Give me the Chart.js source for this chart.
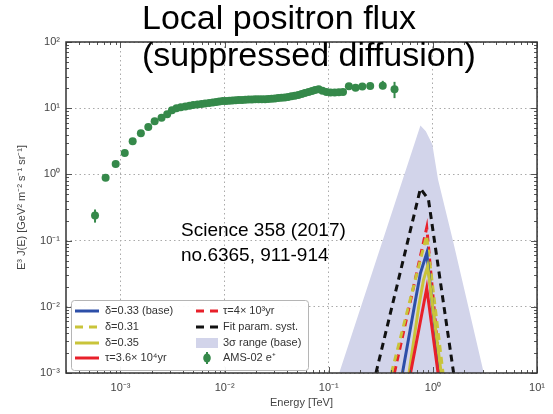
<!DOCTYPE html>
<html>
<head>
<meta charset="utf-8">
<script src="https://cdn.jsdelivr.net/npm/chart.js@4.4.0/dist/chart.umd.min.js"></script>
<style>
  html, body { margin: 0; padding: 0; background: #fff; }
</style>
</head>
<body>
<canvas id="chart" width="553" height="414"></canvas>
<script>
// AMS-02 positron points (energy in TeV, E^3 J(E))
const amsEnergy = [0.00057, 0.00072, 0.00090, 0.00110, 0.00131, 0.00157, 0.00185, 0.00213, 0.00248, 0.00281,
  0.00312, 0.00345, 0.0038, 0.0042, 0.0046, 0.0050, 0.0055, 0.0060, 0.0065, 0.0071,
  0.0077, 0.0083, 0.0089, 0.0096, 0.0103, 0.0111, 0.0119, 0.0128, 0.0137, 0.0147,
  0.0158, 0.0170, 0.0183, 0.0197, 0.0212, 0.0228, 0.0245, 0.0263, 0.0283, 0.0304,
  0.0327, 0.0352, 0.0378, 0.0407, 0.0438, 0.0472, 0.051, 0.055, 0.059, 0.064,
  0.069, 0.074, 0.080, 0.087, 0.095, 0.104, 0.114, 0.125, 0.137, 0.156,
  0.181, 0.210, 0.250, 0.330, 0.428];
const amsFlux = [0.24, 0.89, 1.43, 2.1, 3.16, 4.2, 5.2, 6.35, 7.2, 8.1,
  9.3, 10.0, 10.3, 10.6, 10.9, 11.2, 11.4, 11.6, 11.8, 12.0,
  12.2, 12.4, 12.6, 12.8, 12.9, 13.0, 13.1, 13.2, 13.3, 13.3,
  13.4, 13.5, 13.5, 13.6, 13.6, 13.7, 13.7, 13.8, 13.9, 14.0,
  14.2, 14.4, 14.5, 14.8, 15.1, 15.4, 15.8, 16.4, 17.0, 17.5,
  18.2, 18.8, 19.3, 18.4, 17.6, 17.3, 17.2, 17.4, 17.6, 21.5,
  20.3, 21.2, 21.7, 21.9, 19.3];

// error bars visible in the picture
const errEnergy = [0.00057, 0.330, 0.428];
const errLow = [0.187, 19.4, 14.2];
const errHigh = [0.295, 25.9, 25.0];

// 3 sigma band (base)
const bandE = [0.126, 0.759, 0.855, 0.987, 1.12, 1.55, 2.19, 3.08];
const bandY = [0.001, 5.5, 4.5, 2.85, 0.84, 0.103, 0.01, 0.001];

// model curves
const fitE = [0.284, 0.759, 0.906, 1.58];
const fitY = [0.001, 0.61, 0.42, 0.001];
const tau4e3E = [0.427, 0.873, 1.17];
const tau4e3Y = [0.001, 0.157, 0.001];
const d031E = [0.40, 0.87, 1.25];
const d031Y = [0.001, 0.119, 0.001];
const d033E = [0.51, 0.681, 0.759, 0.873, 1.164];
const d033Y = [0.001, 0.0128, 0.0324, 0.065, 0.001];
const d035E = [0.59, 0.731, 0.813, 0.89, 1.2];
const d035Y = [0.001, 0.0101, 0.0256, 0.041, 0.001];
const tau36e4E = [0.61, 0.873, 1.12];
const tau36e4Y = [0.001, 0.0192, 0.001];

// axis ranges
const xRange = [3e-4, 10];
const yRange = [1e-3, 100];

const FONT = 'Liberation Sans, Arial, sans-serif';
Chart.defaults.font.family = FONT;

const pts = (xs, ys) => xs.map((v, i) => ({ x: v, y: ys[i] }));

const SUP = { '-': '⁻', '0': '⁰', '1': '¹', '2': '²', '3': '³', '4': '⁴', '5': '⁵' };
function decadeLabel(v) {
  const l = Math.log10(v);
  if (Math.abs(l - Math.round(l)) > 1e-6) return null;
  return '10' + String(Math.round(l)).split('').map(c => SUP[c]).join('');
}

const green = '#35894a';
const blue = '#2d4fa8';
const yellow = '#c9c43a';
const red = '#e8202a';
const lav = '#d2d4ea';

// frame, minor ticks, error bars, annotations and legend
const extras = {
  id: 'extras',
  afterDatasetsDraw(chart) {
    const { ctx, chartArea: a, scales: { x, y } } = chart;
    ctx.save();
    ctx.beginPath();
    ctx.rect(a.left, a.top, a.right - a.left, a.bottom - a.top);
    ctx.clip();
    ctx.strokeStyle = green;
    ctx.lineWidth = 2;
    errEnergy.forEach((e, i) => {
      const px = x.getPixelForValue(e);
      ctx.beginPath();
      ctx.moveTo(px, y.getPixelForValue(errLow[i]));
      ctx.lineTo(px, y.getPixelForValue(errHigh[i]));
      ctx.stroke();
    });
    ctx.restore();
  },
  afterDraw(chart) {
    const { ctx, chartArea: a, scales: { x, y } } = chart;
    ctx.save();
    // ticks inward on all sides
    ctx.strokeStyle = '#555';
    ctx.lineWidth = 1;
    for (let k = -4; k <= 2; k++) {
      for (let m = 1; m <= 9; m++) {
        const v = m * Math.pow(10, k);
        const len = m === 1 ? 6 : 3;
        if (v >= xRange[0] * 0.999 && v <= xRange[1] * 1.001) {
          const px = Math.round(x.getPixelForValue(v)) + 0.5;
          ctx.beginPath();
          ctx.moveTo(px, a.bottom); ctx.lineTo(px, a.bottom - len);
          ctx.moveTo(px, a.top); ctx.lineTo(px, a.top + len);
          ctx.stroke();
        }
        if (v >= yRange[0] * 0.999 && v <= yRange[1] * 1.001) {
          const py = Math.round(y.getPixelForValue(v)) + 0.5;
          ctx.beginPath();
          ctx.moveTo(a.left, py); ctx.lineTo(a.left + len, py);
          ctx.moveTo(a.right, py); ctx.lineTo(a.right - len, py);
          ctx.stroke();
        }
      }
    }
    // frame
    ctx.strokeStyle = '#333';
    ctx.lineWidth = 1.5;
    ctx.strokeRect(a.left, a.top, a.right - a.left, a.bottom - a.top);

    // title
    ctx.fillStyle = '#000';
    ctx.font = '34px ' + FONT;
    ctx.textAlign = 'left';
    ctx.textBaseline = 'alphabetic';
    ctx.fillText('Local positron flux', 142, 29);
    ctx.fillText('(suppressed diffusion)', 142, 66);

    // reference note
    ctx.font = '19px ' + FONT;
    ctx.fillText('Science 358 (2017)', 181, 236);
    ctx.fillText('no.6365, 911-914', 181, 261);

    // legend
    const lx = 71, ly = 300, lw = 237, lh = 70;
    ctx.fillStyle = 'rgba(255,255,255,0.95)';
    ctx.strokeStyle = '#b5b5b5';
    ctx.lineWidth = 1;
    ctx.beginPath();
    ctx.roundRect(lx + 0.5, ly + 0.5, lw, lh, 3);
    ctx.fill();
    ctx.stroke();

    const cols = [
      ['δ=0.33 (base)', 'δ=0.31', 'δ=0.35', 'τ=3.6× 10⁴yr'],
      ['τ=4× 10³yr', 'Fit param. syst.', '3σ range (base)', 'AMS-02 e⁺']
    ];
    const colX = [[75, 99, 105], [196, 218, 223]];
    const rowY = [311, 327, 343, 358];
    const byLabel = {};
    chart.data.datasets.forEach(d => { byLabel[d.label] = d; });
    ctx.font = '11px ' + FONT;
    ctx.textBaseline = 'middle';
    cols.forEach((col, ci) => {
      col.forEach((label, ri) => {
        const d = byLabel[label];
        const [x0, x1, tx] = colX[ci];
        const yc = rowY[ri];
        if (d.fill) {
          ctx.fillStyle = d.backgroundColor;
          ctx.fillRect(x0, yc - 5, x1 - x0, 10);
        } else if (d.showLine === false) {
          const cx = (x0 + x1) / 2;
          ctx.strokeStyle = d.backgroundColor;
          ctx.lineWidth = 2;
          ctx.setLineDash([]);
          ctx.beginPath();
          ctx.moveTo(cx, yc - 6); ctx.lineTo(cx, yc + 6);
          ctx.stroke();
          ctx.fillStyle = d.backgroundColor;
          ctx.beginPath();
          ctx.ellipse(cx, yc, 3.8, 4.5, 0, 0, Math.PI * 2);
          ctx.fill();
        } else {
          ctx.strokeStyle = d.borderColor;
          ctx.lineWidth = 3;
          ctx.setLineDash(d.borderDash ? [8, 6] : []);
          ctx.beginPath();
          ctx.moveTo(x0, yc); ctx.lineTo(x1, yc);
          ctx.stroke();
          ctx.setLineDash([]);
        }
        ctx.fillStyle = '#333';
        ctx.fillText(label, tx, yc);
      });
    });
    ctx.restore();
  }
};

const lineSet = (label, xs, ys, color, dash, order) => ({
  label: label,
  data: pts(xs, ys),
  borderColor: color,
  borderWidth: 3,
  borderDash: dash,
  pointRadius: 0,
  fill: false,
  tension: 0,
  order: order
});

new Chart(document.getElementById('chart'), {
  type: 'line',
  data: {
    datasets: [
      {
        label: 'AMS-02 e⁺',
        data: pts(amsEnergy, amsFlux),
        showLine: false,
        backgroundColor: green,
        borderColor: green,
        borderWidth: 0,
        pointRadius: 4,
        order: 0
      },
      lineSet('τ=3.6× 10⁴yr', tau36e4E, tau36e4Y, red, undefined, 1),
      lineSet('δ=0.35', d035E, d035Y, yellow, undefined, 2),
      lineSet('δ=0.33 (base)', d033E, d033Y, blue, undefined, 3),
      lineSet('δ=0.31', d031E, d031Y, yellow, [7, 5], 4),
      lineSet('τ=4× 10³yr', tau4e3E, tau4e3Y, red, [7, 5], 5),
      lineSet('Fit param. syst.', fitE, fitY, '#111', [7, 5], 6),
      {
        label: '3σ range (base)',
        data: pts(bandE, bandY),
        borderWidth: 0,
        borderColor: lav,
        backgroundColor: lav,
        pointRadius: 0,
        fill: 'start',
        tension: 0,
        order: 10
      }
    ]
  },
  options: {
    responsive: false,
    animation: false,
    layout: { padding: { top: 42, right: 2, left: 0, bottom: 0 } },
    plugins: {
      legend: { display: false },
      tooltip: { enabled: false },
      title: { display: false }
    },
    scales: {
      x: {
        type: 'logarithmic',
        min: xRange[0],
        max: xRange[1],
        afterFit: s => { s.height = 41; },
        grid: { color: '#aaaaaa', lineWidth: 1, drawTicks: false },
        border: { display: false, dash: [1.5, 3] },
        ticks: {
          autoSkip: false,
          maxRotation: 0,
          padding: 8,
          color: '#444',
          font: { size: 11 },
          callback: v => decadeLabel(v)
        },
        title: {
          display: true,
          text: 'Energy [TeV]',
          color: '#444',
          font: { size: 11 },
          padding: { top: 0, bottom: 4 }
        }
      },
      y: {
        type: 'logarithmic',
        min: yRange[0],
        max: yRange[1],
        afterFit: s => { s.width = 66; },
        grid: { color: '#aaaaaa', lineWidth: 1, drawTicks: false },
        border: { display: false, dash: [1.5, 3] },
        ticks: {
          autoSkip: false,
          padding: 6,
          color: '#444',
          font: { size: 11 },
          callback: v => decadeLabel(v)
        },
        title: {
          display: true,
          text: 'E³ J(E) [GeV² m⁻² s⁻¹ sr⁻¹]',
          color: '#444',
          font: { size: 11 },
          padding: { top: 15, bottom: 0 }
        }
      }
    }
  },
  plugins: [extras]
});
</script>
</body>
</html>
